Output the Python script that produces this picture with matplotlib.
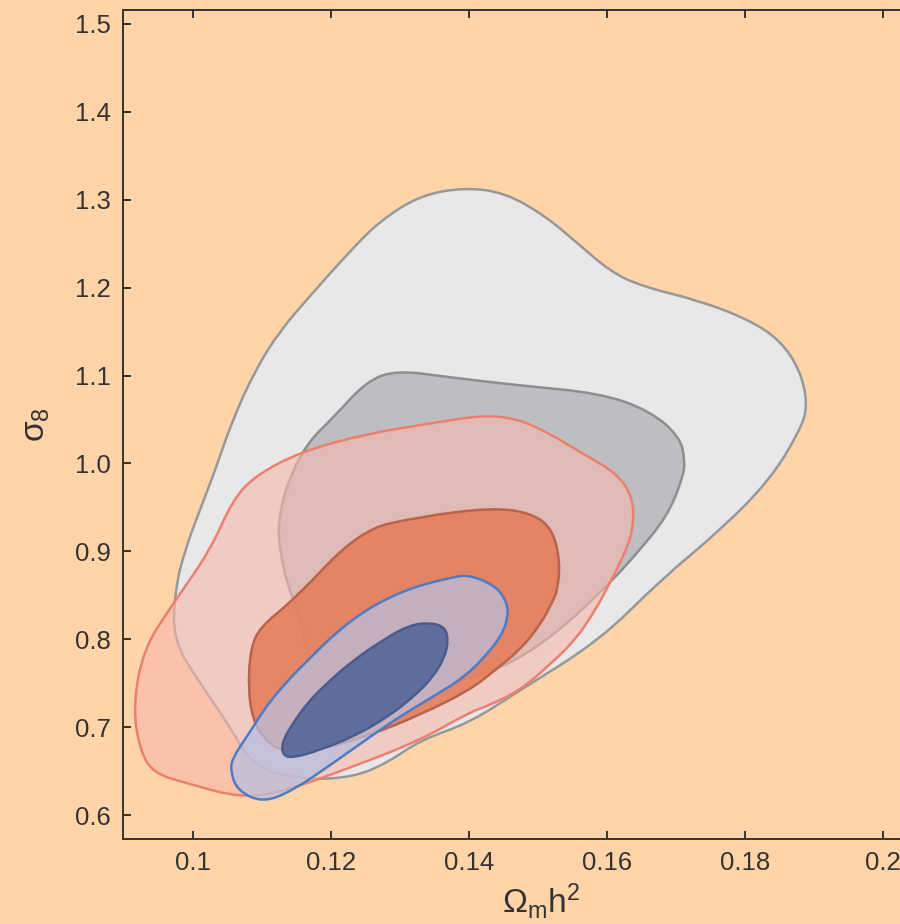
import numpy as np
import matplotlib
matplotlib.use("Agg")
import matplotlib.pyplot as plt
from matplotlib.path import Path
from matplotlib.patches import PathPatch

plt.rcParams['font.family'] = ['Liberation Sans', 'DejaVu Sans']

# contour outlines (Omega_m h^2, sigma_8)
grey_outer_x = [0.0974, 0.0971, 0.1010, 0.1054, 0.1087, 0.1159, 0.1232, 0.1281, 0.1329, 0.1401,
                0.1474, 0.1590, 0.1677, 0.1764, 0.1836, 0.1880, 0.1891, 0.1880, 0.1851, 0.1807,
                0.1735, 0.1648, 0.1604, 0.1561, 0.1510, 0.1452, 0.1394, 0.1329, 0.1271, 0.1228,
                0.1170, 0.1126, 0.1090, 0.1057, 0.1032, 0.1010, 0.0988]
grey_outer_y = [0.856, 0.799, 0.750, 0.700, 0.655, 0.640, 0.643, 0.659, 0.685, 0.705,
                0.742, 0.799, 0.867, 0.924, 0.981, 1.038, 1.066, 1.106, 1.140, 1.163,
                1.185, 1.202, 1.219, 1.248, 1.282, 1.308, 1.314, 1.305, 1.276, 1.242,
                1.191, 1.151, 1.106, 1.049, 0.992, 0.947, 0.901]

grey_inner_x = [0.1252, 0.1296, 0.1372, 0.1470, 0.1590, 0.1662, 0.1706, 0.1713, 0.1710, 0.1687,
                0.1638, 0.1604, 0.1532, 0.1459, 0.1401, 0.1304, 0.1232, 0.1184, 0.1165, 0.1155,
                0.1136, 0.1126, 0.1123, 0.1136, 0.1165, 0.1203]
grey_inner_y = [1.094, 1.106, 1.098, 1.089, 1.080, 1.060, 1.030, 1.003, 0.984, 0.939,
                0.893, 0.864, 0.810, 0.771, 0.757, 0.731, 0.723, 0.742, 0.788, 0.825,
                0.864, 0.901, 0.932, 0.977, 1.023, 1.052]

red_outer_x = [0.1090, 0.1155, 0.1252, 0.1348, 0.1420, 0.1470, 0.1517, 0.1565, 0.1614, 0.1638,
               0.1638, 0.1623, 0.1604, 0.1583, 0.1554, 0.1517, 0.1474, 0.1430, 0.1401, 0.1329,
               0.1232, 0.1136, 0.1072, 0.0991, 0.0942, 0.0923, 0.0913, 0.0928, 0.0967, 0.1025,
               0.1057]
red_outer_y = [0.986, 1.013, 1.034, 1.046, 1.055, 1.051, 1.034, 1.011, 0.989, 0.961,
               0.924, 0.893, 0.864, 0.833, 0.799, 0.771, 0.742, 0.725, 0.717, 0.685,
               0.655, 0.628, 0.619, 0.636, 0.648, 0.674, 0.723, 0.788, 0.836, 0.901,
               0.958]

red_inner_x = [0.1145, 0.1242, 0.1325, 0.1435, 0.1493, 0.1522, 0.1532, 0.1528, 0.1522, 0.1503,
               0.1474, 0.1438, 0.1401, 0.1329, 0.1257, 0.1184, 0.1126, 0.1101, 0.1087, 0.1080,
               0.1083, 0.1097]
red_inner_y = [0.844, 0.924, 0.939, 0.950, 0.943, 0.924, 0.886, 0.856, 0.844, 0.816,
               0.788, 0.765, 0.742, 0.714, 0.691, 0.674, 0.672, 0.689, 0.708, 0.742,
               0.788, 0.814]

blue_outer_x = [0.1401, 0.1438, 0.1454, 0.1457, 0.1448, 0.1425, 0.1395, 0.1355, 0.1314, 0.1271,
                0.1203, 0.1145, 0.1101, 0.1064, 0.1054, 0.1058, 0.1078, 0.1112, 0.1165, 0.1232,
                0.1304, 0.1377]
blue_outer_y = [0.873, 0.861, 0.844, 0.827, 0.805, 0.782, 0.758, 0.738, 0.719, 0.697,
                0.659, 0.628, 0.614, 0.628, 0.651, 0.666, 0.689, 0.731, 0.776, 0.825,
                0.856, 0.871]

blue_inner_x = [0.1343, 0.1365, 0.1370, 0.1365, 0.1348, 0.1319, 0.1281, 0.1232, 0.1184, 0.1145,
                0.1130, 0.1129, 0.1141, 0.1165, 0.1194, 0.1232, 0.1281, 0.1314]
blue_inner_y = [0.819, 0.814, 0.799, 0.780, 0.757, 0.734, 0.711, 0.689, 0.674, 0.665,
                0.668, 0.682, 0.700, 0.727, 0.750, 0.776, 0.802, 0.816]

x_ticks = [0.1, 0.12, 0.14, 0.16, 0.18, 0.2]
x_ticklabels = ['0.1', '0.12', '0.14', '0.16', '0.18', '0.2']
y_ticks = [0.6, 0.7, 0.8, 0.9, 1.0, 1.1, 1.2, 1.3, 1.4, 1.5]
y_ticklabels = ['0.6', '0.7', '0.8', '0.9', '1.0', '1.1', '1.2', '1.3', '1.4', '1.5']


def smooth_patch(xs, ys, **kw):
    # quadratic bezier through midpoints so the outline looks like a contour
    pts = np.column_stack([xs, ys])
    mids = (pts + np.roll(pts, -1, axis=0)) / 2
    verts = [mids[-1]]
    codes = [Path.MOVETO]
    for i in range(len(pts)):
        verts += [pts[i], mids[i]]
        codes += [Path.CURVE3, Path.CURVE3]
    verts.append(mids[-1])
    codes.append(Path.CLOSEPOLY)
    return PathPatch(Path(verts, codes), **kw)


bg = '#FFD4A8'
fig = plt.figure(figsize=(9, 9.24), dpi=100, facecolor=bg)
ax = fig.add_axes([123/900, 85/924, 836/900, 829/924])
ax.set_facecolor(bg)

ax.add_patch(smooth_patch(grey_outer_x, grey_outer_y, facecolor='#E8E8EA', edgecolor='#989898', lw=1.8, zorder=2))
ax.add_patch(smooth_patch(grey_inner_x, grey_inner_y, facecolor='#BDBEC2', edgecolor='#8E8E8E', lw=1.8, zorder=3))
ax.add_patch(smooth_patch(red_outer_x, red_outer_y, facecolor=(0.97, 0.72, 0.68, 0.62), edgecolor='#EC806C', lw=1.8, zorder=4))
ax.add_patch(smooth_patch(red_inner_x, red_inner_y, facecolor=(0.90, 0.48, 0.34, 0.85), edgecolor='#B8644C', lw=1.8, zorder=5))
ax.add_patch(smooth_patch(blue_outer_x, blue_outer_y, facecolor=(0.73, 0.75, 0.87, 0.75), edgecolor='#4E7CC4', lw=1.8, zorder=6))
ax.add_patch(smooth_patch(blue_inner_x, blue_inner_y, facecolor=(0.33, 0.40, 0.60, 0.9), edgecolor='#4A5C8C', lw=1.8, zorder=7))

ax.set_xlim(0.089855, 0.21101)
ax.set_ylim(0.57273, 1.51591)
ax.set_xticks(x_ticks)
ax.set_xticklabels(x_ticklabels)
ax.set_yticks(y_ticks)
ax.set_yticklabels(y_ticklabels)

for s in ['left', 'bottom', 'top', 'right']:
    ax.spines[s].set_color('#333333')
    ax.spines[s].set_linewidth(1.4)
ax.tick_params(direction='in', length=6, width=1.4, color='#333333', labelcolor='#333333',
               labelsize=18.5, top=True, right=False, pad=9)
ax.tick_params(axis='x', pad=9)

ax.set_xlabel(r'$\mathregular{\Omega_m h^2}$', fontsize=24, color='#333333', labelpad=4)
ax.set_ylabel(r'$\mathregular{\sigma_8}$', fontsize=24, color='#333333', labelpad=16)

fig.savefig('out.png', dpi=100, facecolor=bg)
